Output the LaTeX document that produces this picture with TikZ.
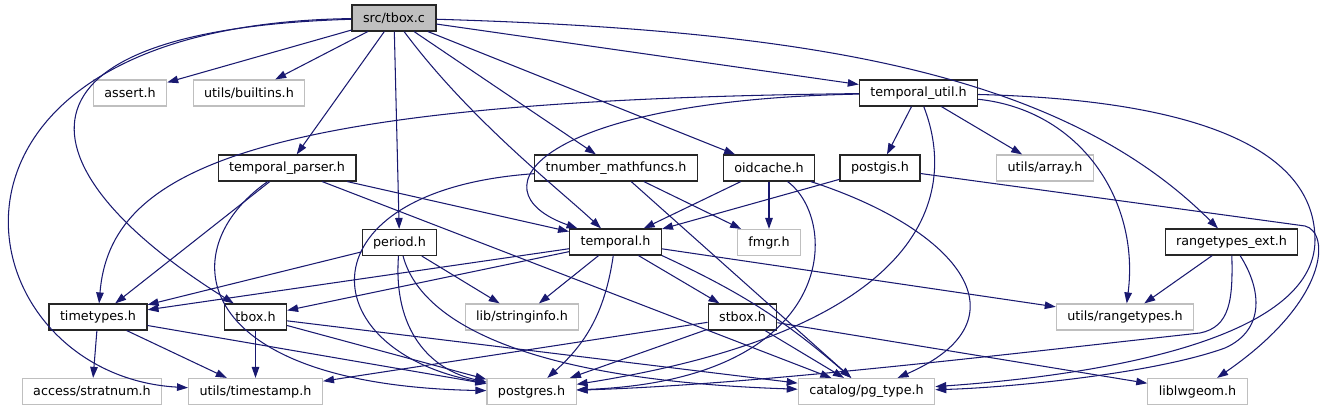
\documentclass[tikz,border=0pt]{standalone}
\usepackage{fontspec}
\setmainfont{DejaVu Sans}
\usepackage{tikz}
\usetikzlibrary{arrows.meta, positioning}
\definecolor{edgeblue}{HTML}{191970}
\definecolor{grey75}{HTML}{BFBFBF}
\tikzstyle{srcfile} = [rectangle, minimum height=0.52cm, inner xsep=0.22cm, inner ysep=0pt, draw=black!85, line width=0.65pt, fill=grey75, font=\fontsize{7.25}{8.7}\selectfont]
\tikzstyle{header} = [rectangle, minimum height=0.52cm, inner xsep=0.22cm, inner ysep=0pt, draw=black!85, line width=0.65pt, fill=white, font=\fontsize{7.25}{8.7}\selectfont]
\tikzstyle{syshdr} = [rectangle, minimum height=0.52cm, inner xsep=0.22cm, inner ysep=0pt, draw=grey75, line width=0.65pt, fill=white, font=\fontsize{7.25}{8.7}\selectfont]
\tikzstyle{dep} = [draw=edgeblue, line width=0.6pt, -{Triangle[length=0.22cm,width=0.15cm]}]

\begin{document}
\begin{tikzpicture}[x=0.02cm, y=-0.02cm]
            \useasboundingbox (0,0) rectangle (1330,411);

            % Place nodes
            \node (tboxc) [srcfile] at (394,18) {src/tbox.c};
            \node (asserth) [syshdr] at (130,93) {assert.h};
            \node (builtins) [syshdr] at (249,93) {utils/builtins.h};
            \node (tutil) [header] at (918.5,93) {temporal\_util.h};
            \node (tparser) [header] at (287,168) {temporal\_parser.h};
            \node (tmath) [header] at (616,168) {tnumber\_mathfuncs.h};
            \node (oidcache) [header] at (769,168) {oidcache.h};
            \node (postgis) [header] at (880,168) {postgis.h};
            \node (arrayh) [syshdr] at (1045,168) {utils/array.h};
            \node (period) [header] at (399.5,242.5) {period.h};
            \node (temporal) [header] at (615.5,242) {temporal.h};
            \node (fmgr) [syshdr] at (769,242.5) {fmgr.h};
            \node (rtext) [header] at (1231.5,242) {rangetypes\_ext.h};
            \node (timetypes) [header] at (98,317) {timetypes.h};
            \node (tboxh) [header] at (255.5,317) {tbox.h};
            \node (stringinfo) [syshdr] at (522,317) {lib/stringinfo.h};
            \node (stbox) [header] at (742.5,317) {stbox.h};
            \node (rangetypes) [syshdr] at (1125,317) {utils/rangetypes.h};
            \node (stratnum) [syshdr] at (92,391.5) {access/stratnum.h};
            \node (timestamp) [syshdr] at (255.5,391.5) {utils/timestamp.h};
            \node (postgres) [syshdr] at (531.5,391.5) {postgres.h};
            \node (pgtype) [syshdr] at (866.5,391.5) {catalog/pg\_type.h};
            \node (liblwgeom) [syshdr] at (1197.5,391.5) {liblwgeom.h};

            % Draw edges
            % src/tbox.c
            \draw [dep] (tboxc) -- (asserth);
            \draw [dep] (tboxc) -- (builtins);
            \draw [dep] (tboxc) -- (tparser);
            \draw [dep] (tboxc) -- (period);
            \draw [dep] (tboxc) .. controls (470,120) and (560,190) .. (temporal);
            \draw [dep] (tboxc) -- (tmath);
            \draw [dep] (tboxc) -- (oidcache);
            \draw [dep] (tboxc) -- (tutil);
            \draw [dep] (tboxc) .. controls (800,30) and (1060,70) .. (rtext);
            \draw [dep] (tboxc) .. controls (-10,30) and (20,170) .. (tboxh);
            \draw [dep] (tboxc) .. controls (-110,25) and (-40,375) .. (timestamp);

            % temporal_util.h
            \draw [dep] (tutil) .. controls (250,100) and (110,170) .. (timetypes);
            \draw [dep] (tutil) .. controls (540,100) and (470,190) .. (temporal);
            \draw [dep] (tutil) -- (postgis);
            \draw [dep] (tutil) -- (arrayh);
            \draw [dep] (tutil) .. controls (1080,110) and (1140,200) .. (rangetypes);
            \draw [dep] (tutil) .. controls (960,200) and (920,330) .. (postgres);
            \draw [dep] (tutil) .. controls (1200,100) and (1315,150) .. (1315,240) .. controls (1315,340) and (1100,375) .. (pgtype);

            % temporal_parser.h
            \draw [dep] (tparser) -- (timetypes);
            \draw [dep] (tparser) .. controls (170,250) and (190,385) .. (postgres);
            \draw [dep] (tparser) -- (temporal);
            \draw [dep] (tparser) -- (pgtype);

            % period.h
            \draw [dep] (period) -- (timetypes);
            \draw [dep] (period) -- (stringinfo);
            \draw [dep] (period) .. controls (393,330) and (430,370) .. (postgres);
            \draw [dep] (period) .. controls (420,320) and (520,380) .. (pgtype);

            % timetypes.h and tbox.h
            \draw [dep] (timetypes) -- (stratnum);
            \draw [dep] (timetypes) -- (timestamp);
            \draw [dep] (timetypes) -- (postgres);
            \draw [dep] (tboxh) -- (timestamp);
            \draw [dep] (tboxh) -- (postgres);
            \draw [dep] (tboxh) -- (pgtype);

            % temporal.h
            \draw [dep] (temporal) -- (timetypes);
            \draw [dep] (temporal) -- (tboxh);
            \draw [dep] (temporal) -- (stringinfo);
            \draw [dep] (temporal) to[bend left=20] (postgres);
            \draw [dep] (temporal) -- (stbox);
            \draw [dep] (temporal.south east) to[bend left=8] (pgtype);
            \draw [dep] (temporal) -- (rangetypes);

            % tnumber_mathfuncs.h
            \draw [dep] (tmath) .. controls (300,190) and (310,350) .. (postgres);
            \draw [dep] (tmath) -- (fmgr);
            \draw [dep] (tmath) -- (pgtype);

            % oidcache.h
            \draw [dep] (oidcache) -- (temporal);
            \draw [dep] (oidcache) -- (fmgr);
            \draw [dep] (oidcache) .. controls (840,220) and (840,380) .. (postgres);
            \draw [dep] (oidcache) .. controls (960,230) and (1030,320) .. (pgtype);

            % postgis.h
            \draw [dep] (postgis) -- (temporal);
            \draw [dep] (postgis) -- (1305,226) .. controls (1330,232) and (1330,300) .. (liblwgeom);

            % stbox.h
            \draw [dep] (stbox) -- (timestamp);
            \draw [dep] (stbox) -- (postgres);
            \draw [dep] (stbox) -- (pgtype);
            \draw [dep] (stbox) -- (liblwgeom);

            % rangetypes_ext.h
            \draw [dep] (rtext) -- (rangetypes);
            \draw [dep] (rtext) .. controls (1233,300) and (1230,327) .. (1200,333) .. controls (1000,355) and (750,385) .. (postgres);
            \draw [dep] (rtext) .. controls (1262,290) and (1265,330) .. (1225,348) .. controls (1150,375) and (1000,388) .. (pgtype);
\end{tikzpicture}
\end{document}
